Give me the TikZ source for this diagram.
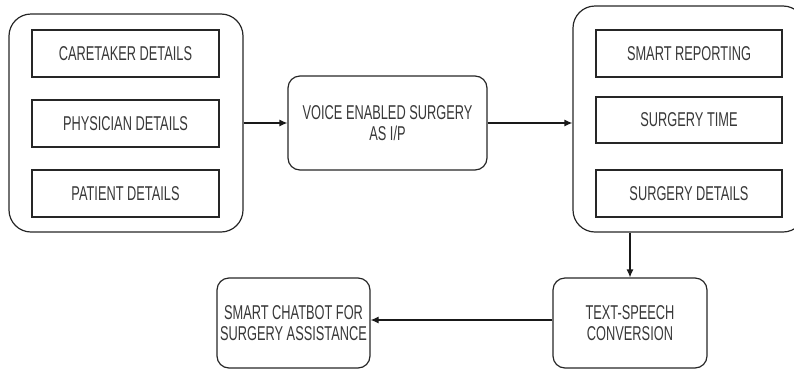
\documentclass[tikz,border=0pt]{standalone}
\usepackage{fontspec}
\setmainfont{Liberation Sans}[FakeStretch=0.64]
\usetikzlibrary{arrows.meta}
\begin{document}
\begin{tikzpicture}[x=1pt,y=-1pt,
  every node/.style={font=\fontsize{20}{21}\selectfont, text=black!78, align=center, inner sep=0pt},
  group/.style={draw=black!85, line width=1.2pt, rounded corners=22pt},
  item/.style={draw=black!85, line width=1.2pt, minimum width=187pt, minimum height=47pt},
  rbox/.style={draw=black!85, line width=1.2pt, rounded corners=12pt},
  conn/.style={draw=black!90, line width=1.2pt, -{Latex[length=8pt,width=7pt]}}]
\useasboundingbox (0,0) rectangle (794,370);
\clip (0,0) rectangle (794,370);
% left group
\node[group, minimum width=234pt, minimum height=218pt] (lg) at (126,123) {};
\node[item] (care) at (125.5,53.5) {CARETAKER DETAILS};
\node[item] (phys) at (125.5,123.5) {PHYSICIAN DETAILS};
\node[item] (pat) at (125.5,193.5) {PATIENT DETAILS};
% middle
\node[rbox, minimum width=199pt, minimum height=94pt] (mid) at (387.5,123) {VOICE ENABLED SURGERY\\AS I/P};
% right group
\node[group, minimum width=232pt, minimum height=226pt] (rg) at (689,119) {};
\node[item, minimum width=186pt] (rep) at (689,53.5) {SMART REPORTING};
\node[item, minimum width=186pt, minimum height=46pt] (time) at (689,120) {SURGERY TIME};
\node[item, minimum width=186pt] (det) at (689,193.5) {SURGERY DETAILS};
% bottom
\node[rbox, minimum width=154pt, minimum height=90pt] (ts) at (630,323) {TEXT-SPEECH\\CONVERSION};
\node[rbox, minimum width=153pt, minimum height=90pt] (cb) at (293.5,323) {SMART CHATBOT FOR\\SURGERY ASSISTANCE};
% connectors
\draw[conn] (lg.east) -- (mid.west);
\draw[conn] (mid.east) -- (mid.east -| rg.west);
\draw[conn] (ts.north |- rg.south) -- (ts.north);
\draw[conn] ([yshift=3pt]ts.west) -- ([yshift=3pt]cb.east);
\end{tikzpicture}
\end{document}
